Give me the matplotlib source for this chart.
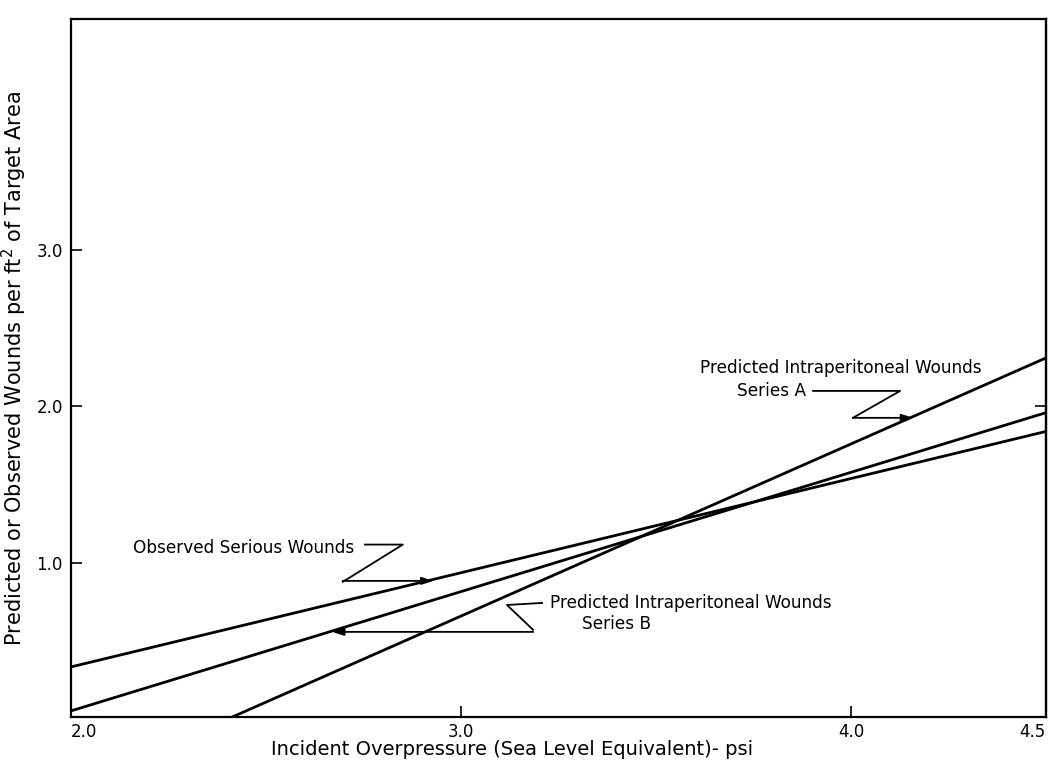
import matplotlib
matplotlib.use("Agg")
import matplotlib.pyplot as plt

# ---- data ----
obs_x = [2.0, 4.5]
obs_y = [0.335, 1.84]
seriesA_x = [2.40, 4.5]
seriesA_y = [0.0, 2.31]
seriesB_x = [2.0, 4.5]
seriesB_y = [0.054, 1.96]

xticks = [2.0, 3.0, 4.0, 4.5]
xtick_labels = ["2.0", "3.0", "4.0", "4.5"]
yticks = [1.0, 2.0, 3.0]
ytick_labels = ["1.0", "2.0", "3.0"]
right_ticks = [2.0]

plt.rcParams['font.family'] = ['DejaVu Sans']

fig = plt.figure(figsize=(10.56, 7.67), dpi=100)
ax = fig.add_axes([0.0672, 0.0652, 0.9233, 0.91])
ax.set_xlim(2.0, 4.5)
ax.set_ylim(0.015, 4.476)

lc = "black"
ax.plot(obs_x, obs_y, color=lc, lw=2.0, solid_capstyle='butt')
ax.plot(seriesA_x, seriesA_y, color=lc, lw=2.0, solid_capstyle='butt')
ax.plot(seriesB_x, seriesB_y, color=lc, lw=2.0, solid_capstyle='butt')

for s in ax.spines.values():
    s.set_linewidth(1.6)

ax.set_xticks(xticks)
ax.set_xticklabels(xtick_labels)
ax.set_yticks(yticks)
ax.set_yticklabels(ytick_labels)
ax.tick_params(axis='both', direction='in', length=8, width=1.2, labelsize=12)
ax.tick_params(axis='x', pad=4)
ax.tick_params(axis='y', pad=6)
xl = ax.get_xticklabels()
xl[0].set_horizontalalignment('left')
xl[-1].set_horizontalalignment('right')

sec = ax.secondary_yaxis('right')
sec.set_yticks(right_ticks)
sec.tick_params(direction='in', length=8, width=1.2, labelright=False)
sec.spines['right'].set_linewidth(1.6)

ax.set_xlabel("Incident Overpressure (Sea Level Equivalent)- psi", fontsize=14)
ax.xaxis.set_label_coords(0.452, -0.0325, transform=ax.transAxes)
ax.xaxis.label.set_va('top')
ax.set_ylabel("Predicted or Observed Wounds per ft$^2$ of Target Area", fontsize=15, labelpad=5)

# ---- annotations (leader positions in data coords) ----
ann_lw = 1.3
fs = 12.2
arrowprops = dict(arrowstyle='-|>,head_length=0.7,head_width=0.22', color=lc, lw=ann_lw,
                  shrinkA=0, shrinkB=0)

# Series A
ax.text(3.974, 2.244, "Predicted Intraperitoneal Wounds", fontsize=fs, ha='center', va='center')
ax.text(3.885, 2.099, "Series A", fontsize=fs, ha='right', va='center')
ax.plot([3.903, 4.126, 4.005], [2.099, 2.099, 1.927], color=lc, lw=ann_lw)
ax.annotate("", xy=(4.160, 1.927), xytext=(4.005, 1.927), arrowprops=arrowprops)

# Observed
ax.text(2.159, 1.098, "Observed Serious Wounds", fontsize=fs, ha='left', va='center')
ax.plot([2.754, 2.851, 2.697], [1.117, 1.117, 0.879], color=lc, lw=ann_lw)
ax.annotate("", xy=(2.930, 0.885), xytext=(2.697, 0.885), arrowprops=arrowprops)

# Series B
ax.text(3.228, 0.744, "Predicted Intraperitoneal Wounds", fontsize=fs, ha='left', va='center')
ax.text(3.310, 0.610, "Series B", fontsize=fs, ha='left', va='center')
ax.plot([3.208, 3.118, 3.185], [0.744, 0.731, 0.572], color=lc, lw=ann_lw)
ax.annotate("", xy=(2.669, 0.559), xytext=(3.185, 0.559), arrowprops=arrowprops)

fig.savefig("out.png", dpi=100)
